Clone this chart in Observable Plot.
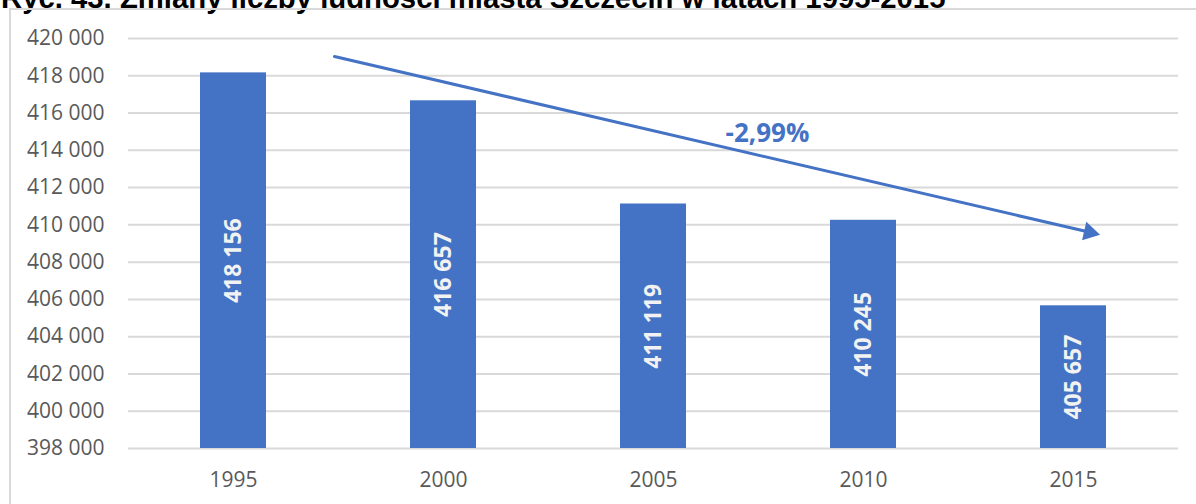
<!DOCTYPE html>
<html>
<head>
<meta charset="utf-8">
<script src="https://cdn.jsdelivr.net/npm/d3@7"></script>
<script src="https://cdn.jsdelivr.net/npm/@observablehq/plot@0.6"></script>
<style>
  html, body { margin: 0; padding: 0; background: #fff; width: 1196px; height: 504px; overflow: hidden; }
  #title { position: absolute; left: 1px; top: -17px; font: bold 29.3px "Liberation Sans", Arial, sans-serif; line-height: 1; color: #000; white-space: nowrap; }
  #frame { position: absolute; left: 9px; top: 8px; width: 1300px; height: 600px; border-left: 2px solid #d9d9d9; border-top: 2px solid #d9d9d9; }
  #chart { position: absolute; left: 0; top: 0; }
</style>
</head>
<body>
<div id="title">Ryc. 43. Zmiany liczby ludności miasta Szczecin w latach 1995-2015</div>
<div id="frame"></div>
<div id="chart"></div>
<script>
// Data
const years = ["1995", "2000", "2005", "2010", "2015"];
const population = [418156, 416657, 411119, 410245, 405657];
const yTicks = [398000, 400000, 402000, 404000, 406000, 408000, 410000, 412000, 414000, 416000, 418000, 420000];
const changeLabel = ["-2,99%"];
// Trend arrow annotation (in data units: category and population)
const arrowFrom = ["1995", 420296];
const arrowTo = ["2015", 409805];
const arrowHead = ["2015", 409606];
const labelAt = ["2005", 414900];

const data = years.map((y, i) => ({year: y, value: population[i]}));
const yMin = yTicks[0];
const fmt = d => d3.format(",")(d).replace(/,/g, " ");
const blue = "#4472C4";

const chart = Plot.plot({
  width: 1196,
  height: 504,
  marginTop: 38,
  marginBottom: 56,
  marginLeft: 128,
  marginRight: 18,
  style: {fontFamily: "'Open Sans', sans-serif", fontSize: "21px", color: "#595959", background: "transparent", overflow: "visible"},
  x: {domain: years, padding: 0, label: null, tickSize: 0, tickPadding: 24},
  y: {domain: [yMin, yTicks[yTicks.length - 1]], ticks: yTicks, tickFormat: fmt, label: null, tickSize: 0, tickPadding: 24},
  marks: [
    Plot.ruleY(yTicks, {stroke: "#d9d9d9", strokeWidth: 2, strokeOpacity: 1}),
    Plot.barY(data, {x: "year", y1: yMin, y2: "value", fill: blue, insetLeft: 72, insetRight: 72}),
    Plot.text(data, {x: "year", y: d => (yMin + d.value) / 2, text: d => fmt(d.value), rotate: -90, fill: "#f2f2f2", fontWeight: "bold", fontSize: 23}),
    Plot.arrow([{x1: arrowFrom[0], y1: arrowFrom[1], x2: arrowTo[0], y2: arrowTo[1]}], {
      x1: "x1", y1: "y1", x2: "x2", y2: "y2", stroke: blue, strokeWidth: 3, headLength: 0, insetStart: 103.7, insetEnd: -18
    }),
    Plot.dot([{x: arrowHead[0], y: arrowHead[1]}], {x: "x", y: "y", symbol: "triangle", r: 7, fill: blue, stroke: null, dx: 16, rotate: 103.1}),
    Plot.text([{x: labelAt[0], y: labelAt[1], t: changeLabel[0]}], {x: "x", y: "y", text: "t", dx: 114, fill: blue, fontWeight: "bold", fontSize: 26})
  ]
});
document.getElementById("chart").appendChild(chart);
</script>
</body>
</html>
